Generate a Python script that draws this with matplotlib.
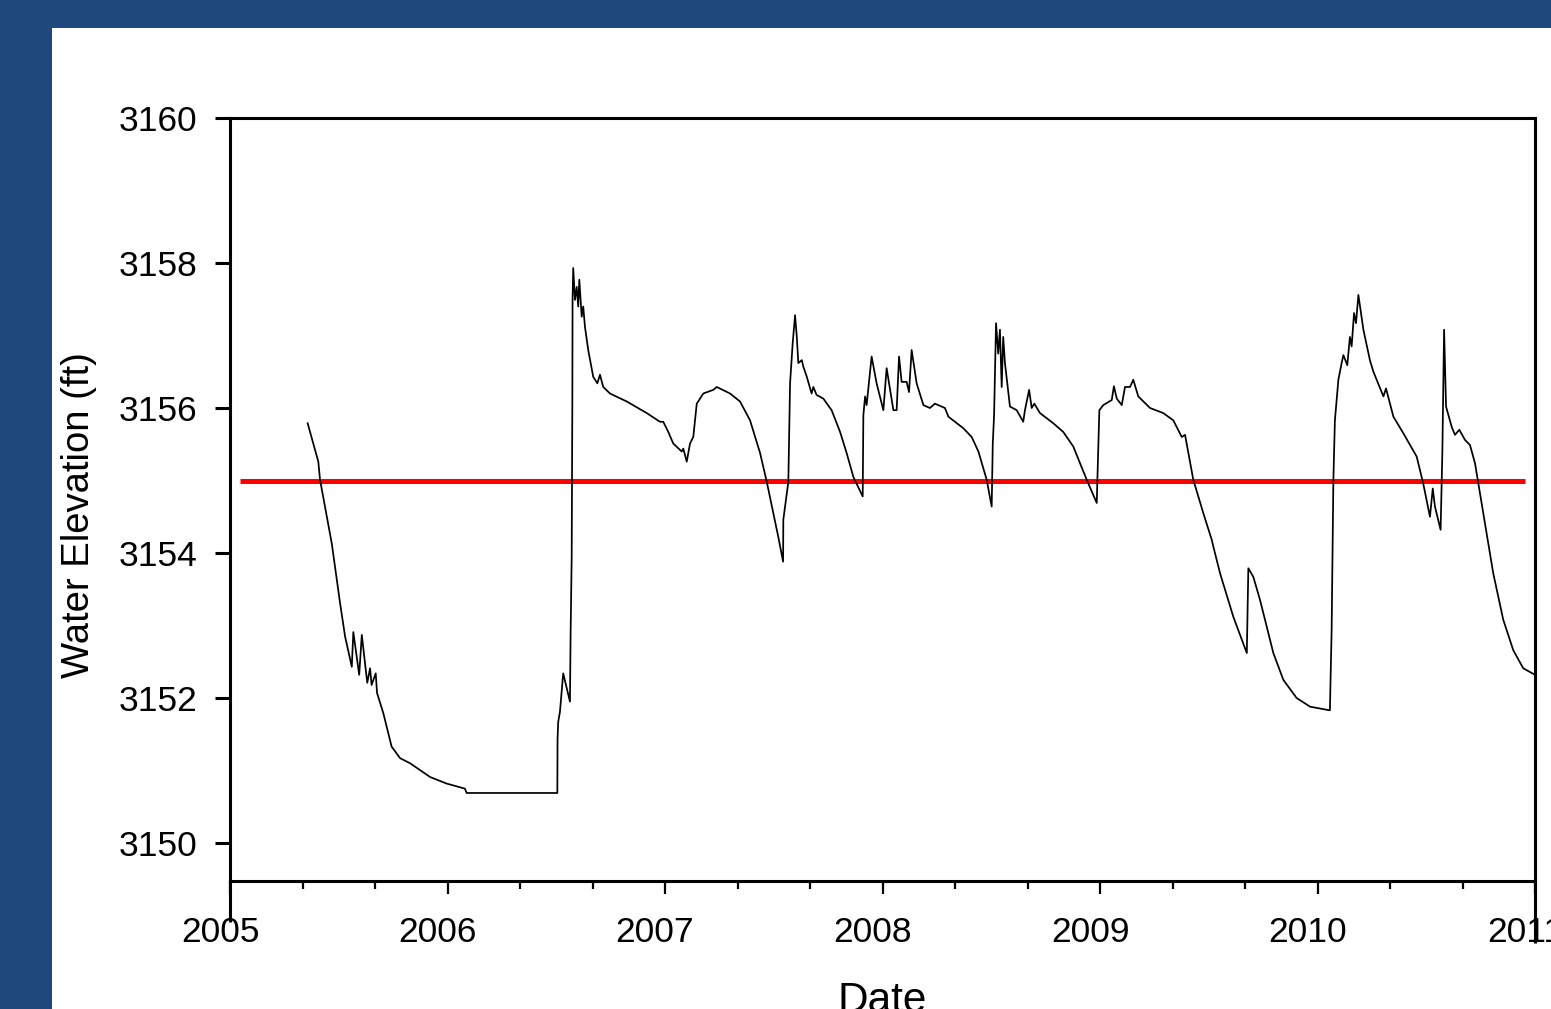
import matplotlib
matplotlib.use("Agg")
import matplotlib.pyplot as plt
import matplotlib.transforms as mtransforms
from matplotlib.patches import Rectangle

# water elevation record, decimal year vs elevation (ft)
dates = [
    2005.357, 2005.406, 2005.414, 2005.468, 2005.506, 2005.529, 2005.560, 2005.567,
    2005.594, 2005.606, 2005.631, 2005.644, 2005.651, 2005.670, 2005.676, 2005.705,
    2005.743, 2005.782, 2005.828, 2005.920, 2005.996, 2006.080, 2006.088, 2006.505,
    2006.506, 2006.509, 2006.517, 2006.532, 2006.563, 2006.566, 2006.571, 2006.574,
    2006.575, 2006.578, 2006.586, 2006.594, 2006.601, 2006.606, 2006.617, 2006.624,
    2006.632, 2006.647, 2006.670, 2006.689, 2006.701, 2006.716, 2006.747, 2006.824,
    2006.916, 2006.977, 2006.992, 2007.015, 2007.038, 2007.077, 2007.084, 2007.100,
    2007.115, 2007.130, 2007.146, 2007.176, 2007.222, 2007.238, 2007.299, 2007.345,
    2007.391, 2007.437, 2007.468, 2007.521, 2007.543, 2007.544, 2007.567, 2007.575,
    2007.587, 2007.598, 2007.606, 2007.613, 2007.629, 2007.636, 2007.652, 2007.674,
    2007.682, 2007.697, 2007.728, 2007.766, 2007.805, 2007.835, 2007.866, 2007.909,
    2007.912, 2007.920, 2007.927, 2007.950, 2007.973, 2008.004, 2008.019, 2008.050,
    2008.065, 2008.076, 2008.088, 2008.111, 2008.122, 2008.134, 2008.157, 2008.188,
    2008.218, 2008.241, 2008.287, 2008.303, 2008.372, 2008.410, 2008.441, 2008.479,
    2008.502, 2008.507, 2008.513, 2008.522, 2008.532, 2008.540, 2008.548, 2008.555,
    2008.563, 2008.586, 2008.617, 2008.647, 2008.655, 2008.674, 2008.686, 2008.698,
    2008.724, 2008.785, 2008.831, 2008.877, 2008.939, 2008.985, 2008.997, 2009.015,
    2009.054, 2009.064, 2009.077, 2009.100, 2009.115, 2009.138, 2009.153, 2009.176,
    2009.230, 2009.291, 2009.337, 2009.376, 2009.391, 2009.429, 2009.475, 2009.514,
    2009.521, 2009.552, 2009.613, 2009.675, 2009.682, 2009.705, 2009.736, 2009.797,
    2009.843, 2009.904, 2009.966, 2010.057, 2010.065, 2010.073, 2010.080, 2010.096,
    2010.111, 2010.119, 2010.137, 2010.149, 2010.157, 2010.168, 2010.177, 2010.188,
    2010.211, 2010.241, 2010.257, 2010.303, 2010.315, 2010.349, 2010.395, 2010.456,
    2010.486, 2010.517, 2010.530, 2010.540, 2010.566, 2010.574, 2010.582, 2010.591,
    2010.617, 2010.632, 2010.652, 2010.678, 2010.701, 2010.724, 2010.762, 2010.808,
    2010.854, 2010.900, 2010.946, 2011.000,
]
elevation = [
    3155.79, 3155.26, 3155.01, 3154.13, 3153.31, 3152.85, 3152.43, 3152.91,
    3152.32, 3152.87, 3152.21, 3152.41, 3152.18, 3152.34, 3152.07, 3151.79,
    3151.33, 3151.17, 3151.10, 3150.91, 3150.82, 3150.75, 3150.69, 3150.69,
    3151.44, 3151.67, 3151.81, 3152.34, 3151.95, 3152.89, 3153.95, 3156.11,
    3157.49, 3157.93, 3157.49, 3157.67, 3157.40, 3157.77, 3157.26, 3157.40,
    3157.12, 3156.80, 3156.43, 3156.34, 3156.46, 3156.29, 3156.20, 3156.09,
    3155.93, 3155.81, 3155.81, 3155.67, 3155.51, 3155.40, 3155.44, 3155.26,
    3155.51, 3155.60, 3156.06, 3156.20, 3156.25, 3156.29, 3156.20, 3156.09,
    3155.83, 3155.38, 3154.98, 3154.22, 3153.88, 3154.46, 3154.98, 3156.34,
    3156.89, 3157.28, 3156.98, 3156.62, 3156.66, 3156.57, 3156.43, 3156.20,
    3156.29, 3156.18, 3156.13, 3155.97, 3155.67, 3155.38, 3155.05, 3154.78,
    3155.90, 3156.16, 3156.04, 3156.71, 3156.34, 3155.97, 3156.55, 3155.97,
    3155.97, 3156.71, 3156.36, 3156.36, 3156.22, 3156.80, 3156.34, 3156.04,
    3156.00, 3156.06, 3156.00, 3155.88, 3155.72, 3155.60, 3155.40, 3155.01,
    3154.64, 3155.51, 3155.90, 3157.17, 3156.75, 3157.08, 3156.29, 3156.98,
    3156.62, 3156.02, 3155.97, 3155.81, 3155.97, 3156.25, 3156.00, 3156.06,
    3155.93, 3155.79, 3155.67, 3155.47, 3155.01, 3154.69, 3155.97, 3156.04,
    3156.11, 3156.30, 3156.13, 3156.04, 3156.29, 3156.29, 3156.39, 3156.16,
    3156.00, 3155.93, 3155.83, 3155.60, 3155.63, 3155.01, 3154.55, 3154.18,
    3154.09, 3153.72, 3153.12, 3152.62, 3153.79, 3153.67, 3153.35, 3152.62,
    3152.25, 3152.00, 3151.88, 3151.83, 3152.94, 3155.01, 3155.83, 3156.39,
    3156.62, 3156.73, 3156.59, 3156.98, 3156.85, 3157.31, 3157.17, 3157.56,
    3157.08, 3156.66, 3156.50, 3156.16, 3156.27, 3155.88, 3155.65, 3155.33,
    3154.96, 3154.50, 3154.89, 3154.64, 3154.32, 3155.38, 3157.08, 3156.02,
    3155.74, 3155.63, 3155.70, 3155.56, 3155.49, 3155.24, 3154.55, 3153.72,
    3153.08, 3152.66, 3152.41, 3152.32,
]

# reference level
target_level = 3155.0
target_start, target_end = 2005.046, 2010.954

year_ticks = [2005, 2006, 2007, 2008, 2009, 2010, 2011]
elev_ticks = [3150, 3152, 3154, 3156, 3158, 3160]

plt.rcParams['font.family'] = ['Liberation Sans', 'DejaVu Sans']

fig = plt.figure(figsize=(15.51, 10.09), dpi=100)
fig.patch.set_facecolor('#1f497d')
# white slide area, kept behind the axes
fig.patches.append(Rectangle((52 / 1551, 0), 1, (1009 - 28) / 1009,
                             transform=fig.transFigure, facecolor='white',
                             edgecolor='none', zorder=-10))

ax = fig.add_axes([230 / 1551, 128 / 1009, 1305 / 1551, 763 / 1009], zorder=2)
ax.set_facecolor('white')

ax.plot(dates, elevation, color='black', lw=1.25, zorder=3)
ax.hlines(target_level, target_start, target_end, color='#ff0000', lw=3.6, zorder=2)

ax.set_xlim(2005, 2011)
ax.set_ylim(3149.476, 3160)

ax.set_xticks(year_ticks)
ax.set_xticklabels([str(y) for y in year_ticks])
ax.set_xticks([y + k / 3 for y in year_ticks[:-1] for k in (1, 2)], minor=True)
ax.set_yticks(elev_ticks)
ax.set_yticklabels([str(v) for v in elev_ticks])

for side in ['left', 'right', 'top', 'bottom']:
    ax.spines[side].set_linewidth(2.2)

ax.tick_params(axis='x', which='major', direction='out', length=9.5, width=1.6,
               labelsize=25.5, pad=15.5)
ax.tick_params(axis='x', which='minor', direction='out', length=6, width=1.6)
ax.tick_params(axis='y', which='major', direction='out', length=11, width=2.2,
               labelsize=25.5, pad=12.5)

# SigmaPlot-style labels sit a bit left of their ticks
shift = mtransforms.ScaledTranslation(-10 / 100, 0, fig.dpi_scale_trans)
for lab in ax.get_xticklabels():
    lab.set_transform(lab.get_transform() + shift)

# axis lines poking below the bottom axis
ax.plot([0, 0], [0, -41 / 763], transform=ax.transAxes, color='black',
        lw=2.2, clip_on=False, solid_capstyle='butt')
ax.plot([1, 1], [0, -62 / 763], transform=ax.transAxes, color='black',
        lw=2.2, clip_on=False, solid_capstyle='butt')

fig.text(79 / 1551, (1009 - 515) / 1009, 'Water Elevation (ft)', rotation=90,
         ha='center', va='center', fontsize=27.5)
fig.text(882 / 1551, -3 / 1009, 'Date', ha='center', va='baseline', fontsize=30.5)

fig.savefig('out.png', dpi=100, facecolor=fig.get_facecolor())
